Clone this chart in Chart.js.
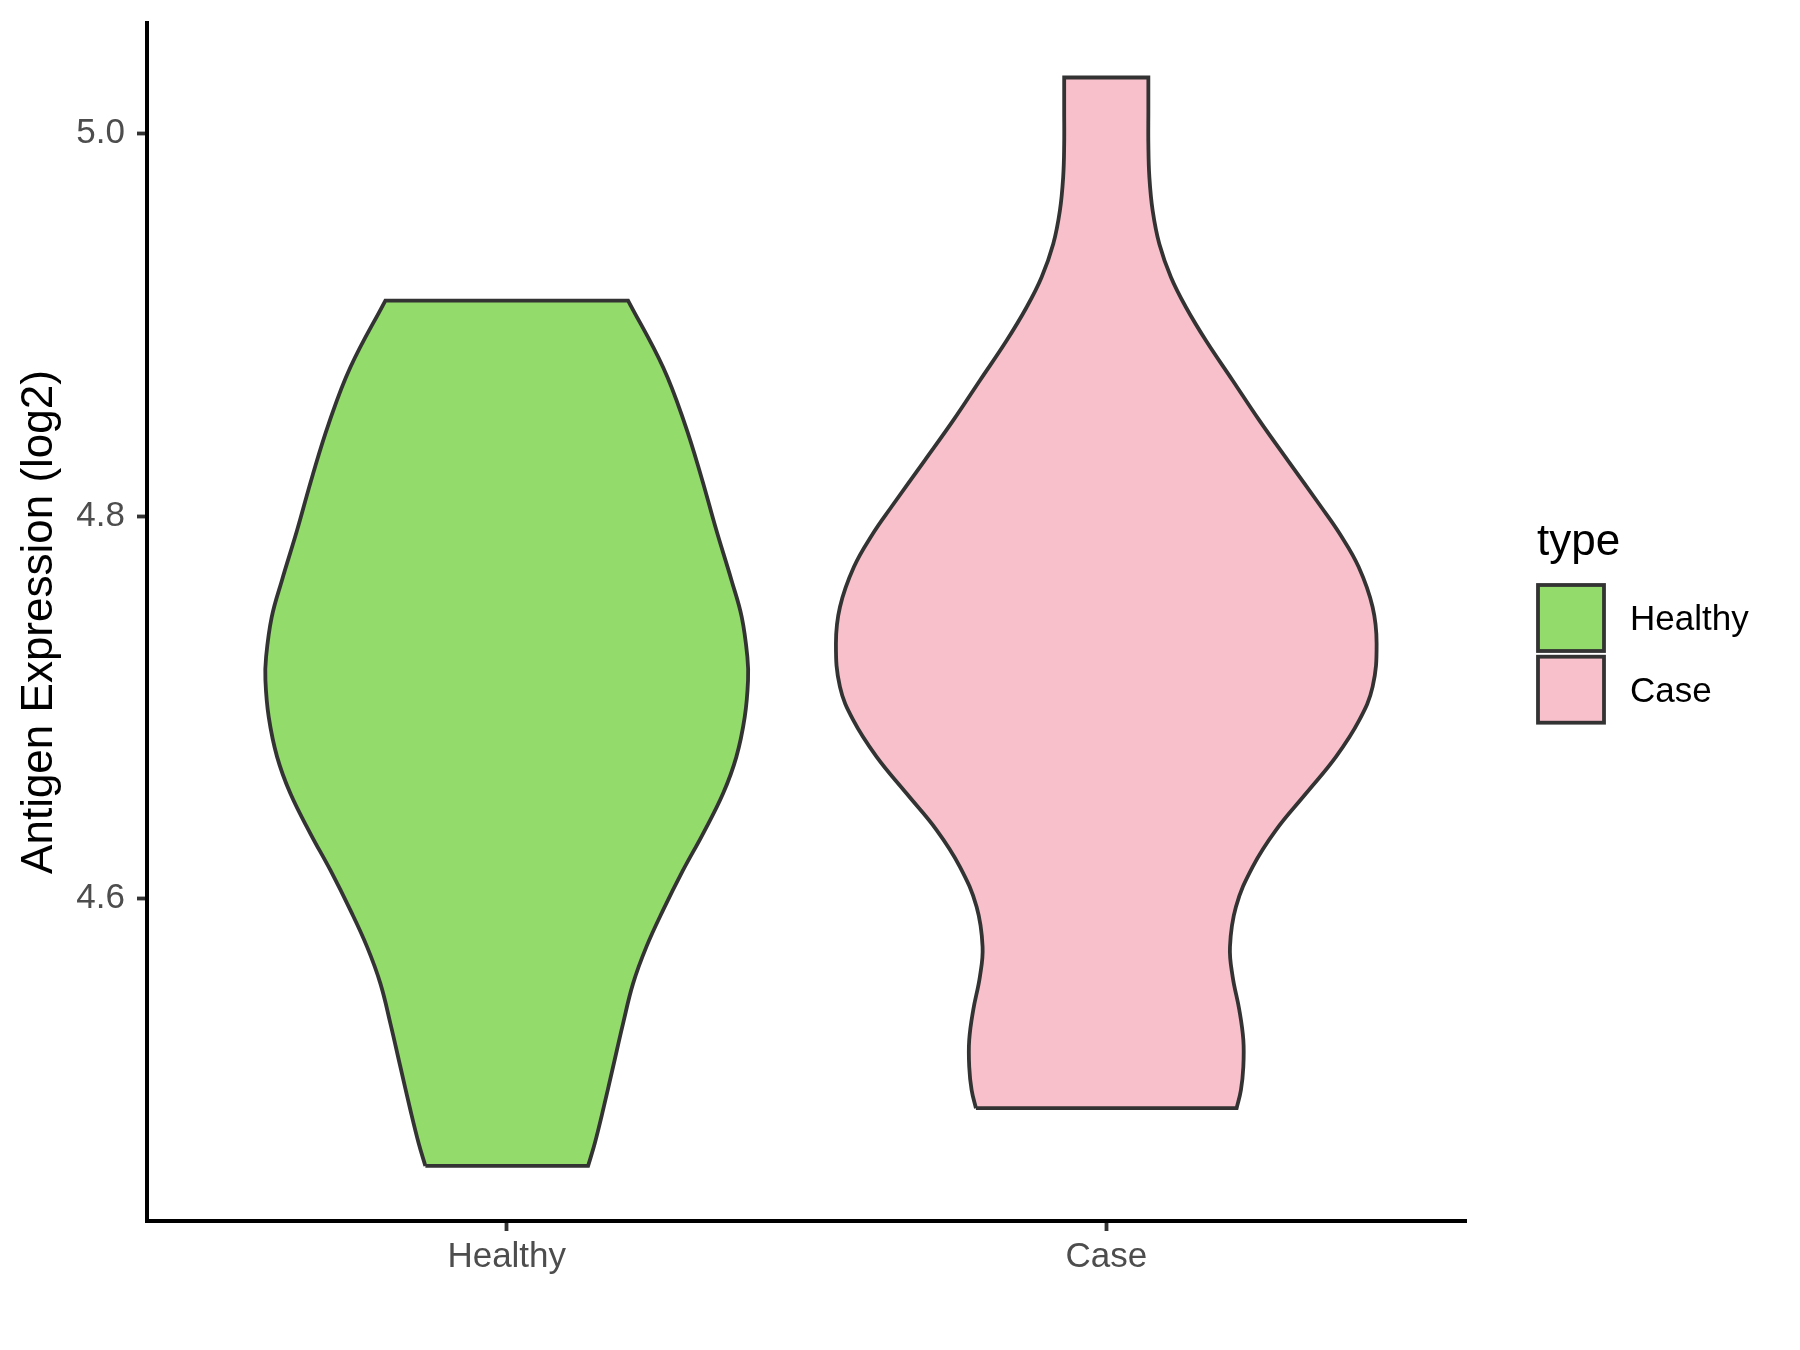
<!DOCTYPE html>
<html lang="en">
<head>
  <meta charset="UTF-8">
  <title>Antigen Expression (log2) violin</title>
  <script src="https://cdn.jsdelivr.net/npm/chart.js"></script>
  <style>
    html, body { margin: 0; padding: 0; background: #ffffff; }
    #wrap { width: 1800px; height: 1350px; position: relative; }
  </style>
</head>
<body>
  <div id="wrap"><canvas id="violinChart"></canvas></div>

  <script>
    // categories on the x axis and their fill colours
    const categories = ['Healthy', 'Case'];
    const fillColors = ['#93DB6B', '#F8C0CB'];
    const legendTitle = 'type';
    const yTicks = [4.6, 4.8, 5.0];

    // Healthy violin: expression value (bottom -> top) and half width of the density
    const healthyY = [4.4600, 4.4719, 4.4893, 4.5119, 4.5346, 4.5555, 4.5746, 4.5938, 4.6147, 4.6339,
                      4.6548, 4.6740, 4.6949, 4.7141, 4.7262, 4.7471, 4.7663, 4.7925, 4.8203,
                      4.8482, 4.8778, 4.9127];
    const healthyHalfWidth = [0.1357, 0.1469, 0.1607, 0.1774, 0.1941, 0.2108, 0.2329, 0.2608, 0.2941, 0.3275,
                              0.3608, 0.3830, 0.3970, 0.4025, 0.4014, 0.3920, 0.3750, 0.3497, 0.3247,
                              0.2970, 0.2608, 0.2024];

    // Case violin
    const caseY = [4.4902, 4.4997, 4.5119, 4.5259, 4.5416, 4.5590, 4.5746, 4.5956, 4.6165, 4.6357,
                   4.6548, 4.6740, 4.6932, 4.7106, 4.7332, 4.7524, 4.7733, 4.7907, 4.8047, 4.8291,
                   4.8500, 4.8709, 4.8918, 4.9092, 4.9249, 4.9423, 4.9597, 4.9772, 4.9946, 5.0120,
                   5.0294];
    const caseHalfWidth = [0.2174, 0.2246, 0.2286, 0.2286, 0.2219, 0.2108, 0.2063, 0.2163, 0.2441, 0.2830,
                           0.3330, 0.3830, 0.4220, 0.4442, 0.4509, 0.4442, 0.4210, 0.3894, 0.3585, 0.3027,
                           0.2553, 0.2108, 0.1662, 0.1329, 0.1079, 0.0885, 0.0774, 0.0719, 0.0702, 0.0702,
                           0.0702];

    // build the closed outline of one violin around its category position
    function violinOutline(center, ys, ws) {
      const n = ys.length;
      const left = ys.map((y, i) => ({ x: center - ws[i], y: y }));
      const right = ys.map((y, i) => ({ x: center + ws[i], y: y }));
      // every corner point is doubled so the smoothing keeps the flat top and bottom edges straight
      const pts = [left[0]];
      for (let i = 0; i < n; i++) pts.push(left[i]);
      pts.push(left[n - 1]);
      pts.push(right[n - 1]);
      for (let i = n - 1; i >= 0; i--) pts.push(right[i]);
      pts.push(right[0]);
      pts.push(left[0]);
      return pts;
    }

    const violinData = [
      violinOutline(1, healthyY, healthyHalfWidth),
      violinOutline(2, caseY, caseHalfWidth)
    ];

    Chart.defaults.font.family = '"Liberation Sans", Arial, sans-serif';

    // legend drawn by hand to sit like the ggplot one
    const typeLegend = {
      id: 'typeLegend',
      afterDraw(chart) {
        const ctx = chart.ctx;
        const x0 = chart.chartArea.right + 72;
        ctx.save();
        ctx.fillStyle = '#000000';
        ctx.font = '44px "Liberation Sans", Arial, sans-serif';
        ctx.textBaseline = 'alphabetic';
        ctx.textAlign = 'left';
        ctx.fillText(legendTitle, x0 - 1, 555);
        categories.forEach((name, i) => {
          const top = 585 + i * 71.7;
          ctx.fillStyle = fillColors[i];
          ctx.fillRect(x0, top, 66, 66);
          ctx.lineWidth = 3.8;
          ctx.strokeStyle = '#333333';
          ctx.strokeRect(x0, top, 66, 66);
          ctx.fillStyle = '#000000';
          ctx.font = '35px "Liberation Sans", Arial, sans-serif';
          ctx.textBaseline = 'middle';
          ctx.fillText(name, x0 + 92, top + 35.5);
        });
        ctx.restore();
      }
    };

    const ctx = document.getElementById('violinChart').getContext('2d');
    const violinChart = new Chart(ctx, {
      type: 'scatter',
      data: {
        datasets: categories.map((name, i) => ({
          label: name,
          data: violinData[i],
          showLine: true,
          fill: 'shape',
          backgroundColor: fillColors[i],
          borderColor: '#333333',
          borderWidth: 3.8,
          tension: 0.4,
          pointRadius: 0,
          pointHoverRadius: 0
        }))
      },
      options: {
        responsive: true,
        maintainAspectRatio: false,
        animation: false,
        layout: { padding: { left: 0, top: 23, right: 334, bottom: 0 } },
        plugins: {
          legend: { display: false },
          tooltip: { enabled: false }
        },
        scales: {
          x: {
            type: 'linear',
            min: 0.4,
            max: 2.6,
            afterBuildTicks: scale => { scale.ticks = categories.map((c, i) => ({ value: i + 1 })); },
            afterFit: scale => { scale.height = 129; scale.paddingLeft = 0; scale.paddingRight = 0; },
            ticks: {
              autoSkip: false,
              maxRotation: 0,
              padding: 5,
              color: '#4D4D4D',
              font: { size: 35, lineHeight: 1.2 },
              callback: value => categories[value - 1]
            },
            grid: { drawOnChartArea: false, drawTicks: true, tickLength: 10, tickColor: '#333333', tickWidth: 3.8 },
            border: { display: true, color: '#000000', width: 4 }
          },
          y: {
            type: 'linear',
            min: 4.4312,
            max: 5.0579,
            afterBuildTicks: scale => { scale.ticks = yTicks.map(v => ({ value: v })); },
            afterFit: scale => { scale.width = 147; scale.paddingTop = 0; scale.paddingBottom = 0; },
            ticks: {
              padding: 12,
              color: '#4D4D4D',
              font: { size: 35, lineHeight: 1.2 },
              callback: value => value.toFixed(1)
            },
            grid: { drawOnChartArea: false, drawTicks: true, tickLength: 10, tickColor: '#333333', tickWidth: 3.8 },
            border: { display: true, color: '#000000', width: 4 },
            title: {
              display: true,
              text: 'Antigen Expression (log2)',
              color: '#000000',
              font: { size: 44, lineHeight: 1.2 },
              padding: { top: 13, bottom: 0 }
            }
          }
        }
      },
      plugins: [typeLegend]
    });
  </script>
</body>
</html>
